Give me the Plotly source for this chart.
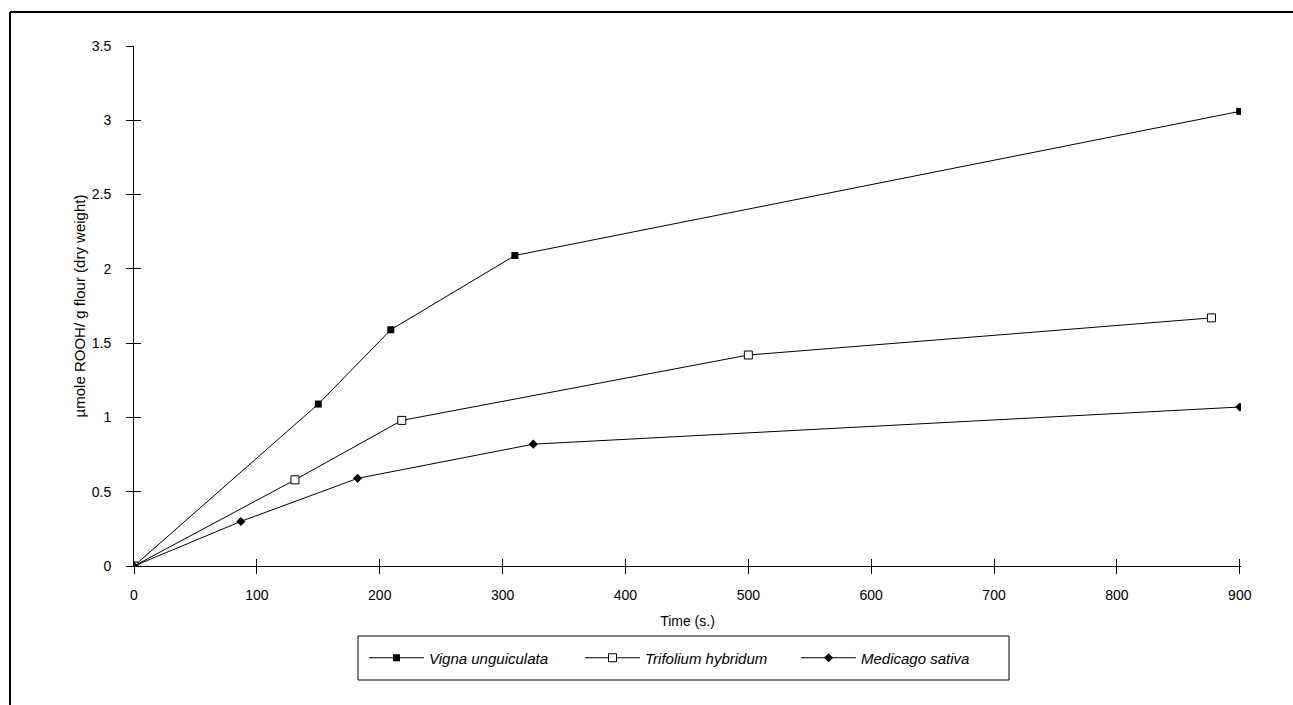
import plotly.graph_objects as go

# Data
vigna_x = [0, 150, 209, 310, 900]
vigna_y = [0, 1.09, 1.59, 2.09, 3.06]
trif_x = [0, 131, 218, 500, 877]
trif_y = [0, 0.58, 0.98, 1.42, 1.67]
medi_x = [0, 87, 182, 325, 900]
medi_y = [0, 0.30, 0.59, 0.82, 1.07]

series_names = ["Vigna unguiculata", "Trifolium hybridum", "Medicago sativa"]
x_ticks = [0, 100, 200, 300, 400, 500, 600, 700, 800, 900]
y_ticks = [0, 0.5, 1, 1.5, 2, 2.5, 3, 3.5]
y_tick_text = ["0", "0.5", "1", "1.5", "2", "2.5", "3", "3.5"]

FONT = "Liberation Sans, Arial, sans-serif"
W, H = 1293, 705
L, R, T, B = 134, 52, 46, 139
pw, ph = W - L - R, H - T - B


def px_x(p):
    return (p - L) / pw


def px_y(p):
    return (H - B - p) / ph


fig = go.Figure()
fig.add_trace(go.Scatter(
    x=vigna_x, y=vigna_y, name=series_names[0], mode="lines+markers",
    line=dict(color="black", width=1),
    marker=dict(symbol="square", size=7, color="black"),
))
fig.add_trace(go.Scatter(
    x=trif_x, y=trif_y, name=series_names[1], mode="lines+markers",
    line=dict(color="black", width=1),
    marker=dict(symbol="square", size=8, color="white", line=dict(color="black", width=1)),
))
fig.add_trace(go.Scatter(
    x=medi_x, y=medi_y, name=series_names[2], mode="lines+markers",
    line=dict(color="black", width=1),
    marker=dict(symbol="diamond", size=7, color="black"),
))
# invisible helper trace to activate the inside-tick overlay axes
fig.add_trace(go.Scatter(
    x=[0], y=[0], xaxis="x2", yaxis="y2", mode="markers",
    marker=dict(opacity=0), showlegend=False, hoverinfo="skip",
))

axis_common = dict(
    showgrid=False, zeroline=False, color="black",
    tickfont=dict(family=FONT, size=14, color="black"),
)
XR = [0, 901]

fig.update_layout(
    width=W, height=H,
    margin=dict(l=L, r=R, t=T, b=B),
    paper_bgcolor="white", plot_bgcolor="white",
    showlegend=True,
    xaxis=dict(
        range=XR, tickmode="array", tickvals=x_ticks,
        ticks="outside", ticklen=7, tickwidth=1, tickcolor="black",
        showline=True, linecolor="black", linewidth=1,
        ticklabelstandoff=9,
        title=dict(text="Time (s.)", font=dict(family=FONT, size=14, color="black"), standoff=14),
        **axis_common,
    ),
    yaxis=dict(
        range=[0, 3.5], tickmode="array", tickvals=y_ticks, ticktext=y_tick_text,
        ticks="outside", ticklen=7, tickwidth=1, tickcolor="black",
        showline=True, linecolor="black", linewidth=1,
        ticklabelstandoff=12,
        title=dict(text="µmole ROOH/ g flour (dry weight)", font=dict(family=FONT, size=15, color="black"), standoff=2),
        **axis_common,
    ),
    xaxis2=dict(
        range=XR, overlaying="x", anchor="y", side="bottom",
        tickmode="array", tickvals=x_ticks, ticks="inside", ticklen=7,
        tickwidth=1, tickcolor="black", showticklabels=False,
        showline=False, showgrid=False, zeroline=False,
    ),
    yaxis2=dict(
        range=[0, 3.5], overlaying="y", anchor="x", side="left",
        tickmode="array", tickvals=y_ticks, ticks="inside", ticklen=7,
        tickwidth=1, tickcolor="black", showticklabels=False,
        showline=False, showgrid=False, zeroline=False,
    ),
    legend=dict(
        orientation="h",
        x=px_x(364), y=px_y(658), xanchor="left", yanchor="middle",
        borderwidth=0, bgcolor="rgba(0,0,0,0)",
        font=dict(family=FONT, size=15, color="black", style="italic"),
        entrywidth=146, entrywidthmode="pixels",
        itemwidth=55,
    ),
    shapes=[
        # outer frame (top and left edges)
        dict(type="line", xref="paper", yref="paper",
             x0=px_x(10), x1=px_x(W), y0=px_y(12), y1=px_y(12),
             line=dict(color="black", width=2)),
        dict(type="line", xref="paper", yref="paper",
             x0=px_x(10), x1=px_x(10), y0=px_y(12), y1=px_y(H),
             line=dict(color="black", width=2)),
        # legend box
        dict(type="rect", xref="paper", yref="paper",
             x0=px_x(358), x1=px_x(1009), y0=px_y(636), y1=px_y(680),
             line=dict(color="black", width=1)),
    ],
)

fig.write_html(
    "out.html",
    config={"displayModeBar": False},
    post_script="document.body.style.margin='0px';",
)
